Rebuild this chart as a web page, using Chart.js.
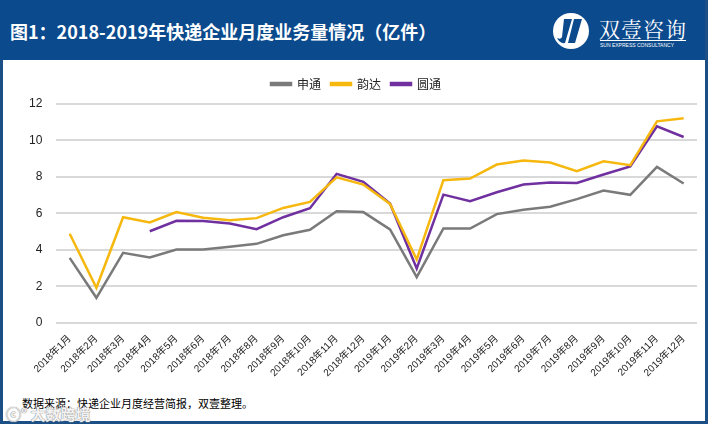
<!DOCTYPE html>
<html>
<head>
<meta charset="utf-8">
<script src="https://cdn.jsdelivr.net/npm/chart.js@4.4.0/dist/chart.umd.min.js"></script>
<style>
  html, body { margin: 0; padding: 0; background: #fff; }
  #frame {
    position: absolute; left: 0; top: 0; width: 702px; height: 421px;
    border: 3px solid #1b4f86; border-top: none; background: #fff;
  }
  #header {
    position: absolute; left: 0; top: 0; width: 705px; height: 60px; background: #0b4a8d;
  }
  #title {
    position: absolute; left: 10px; top: 18px; color: #fff;
    font: bold 18px "Noto Sans CJK SC", sans-serif;
  }
  #logo { position: absolute; left: 550px; top: 10px; }
  #brand {
    position: absolute; left: 599px; top: 13px; color: #fff;
    font: 21px "Noto Serif CJK SC", "Noto Sans CJK SC", serif; letter-spacing: 1px;
  }
  #brandsub {
    position: absolute; left: 600px; top: 40px; color: #fff;
    font: 5px "Liberation Sans", sans-serif; border-top: 1px solid #fff; padding-top: 1px; width: 86px;
  }
  #wrap { position: absolute; left: 5px; top: 66px; width: 698px; height: 315px; }
  #source {
    position: absolute; left: 22px; top: 395px; color: #000;
    font: 11px "Noto Sans CJK SC", sans-serif;
  }
  #mark {
    position: absolute; left: 6px; top: 403px; color: rgba(255,255,255,0.9);
    font: bold 15px "Noto Sans CJK SC", sans-serif;
    text-shadow: 0 0 1px #999, 0 0 1px #999, 0 0 1px #999;
  }
</style>
</head>
<body>
<div id="frame"></div>
<div id="header"></div>
<div id="title">图1：2018-2019年快递企业月度业务量情况（亿件）</div>
<svg id="logo" width="42" height="42" viewBox="0 0 42 42">
  <circle cx="21" cy="21" r="18" fill="#fff"/>
  <path d="M14 9 L22 9 L15 33 Q10 34 7 28 Q11 30 12 27 Z" fill="#0b4a8d"/>
  <path d="M24 9 L32 9 L25 33 L18 33 Z" fill="#0b4a8d"/>
</svg>
<div id="brand">双壹咨询</div>
<div id="brandsub">SUN EXPRESS CONSULTANCY</div>
<div id="wrap"><canvas id="chart"></canvas></div>
<div id="source">数据来源：快递企业月度经营简报，双壹整理。</div>
<div id="mark">ⓒ° 大数跨境</div>
<script>
const months = ['2018年1月','2018年2月','2018年3月','2018年4月','2018年5月','2018年6月',
  '2018年7月','2018年8月','2018年9月','2018年10月','2018年11月','2018年12月',
  '2019年1月','2019年2月','2019年3月','2019年4月','2019年5月','2019年6月',
  '2019年7月','2019年8月','2019年9月','2019年10月','2019年11月','2019年12月'];
const shentong = [3.56,1.37,3.84,3.58,4.02,4.02,4.17,4.33,4.80,5.10,6.12,6.07,
  5.12,2.50,5.17,5.17,5.96,6.20,6.36,6.78,7.25,7.02,8.55,7.64];
const yunda = [4.88,1.92,5.79,5.50,6.07,5.76,5.63,5.74,6.30,6.63,7.98,7.58,
  6.52,3.47,7.82,7.91,8.68,8.90,8.79,8.31,8.86,8.64,11.05,11.22];
const yuantong = [null,null,null,5.02,5.59,5.58,5.45,5.13,5.79,6.28,8.17,7.73,
  6.54,2.98,7.03,6.67,7.16,7.58,7.69,7.67,8.13,8.58,10.78,10.19];

// a little extra room under the legend
const legendGap = {
  id: 'legendGap',
  beforeInit(chart) {
    const fit = chart.legend.fit;
    chart.legend.fit = function () {
      fit.bind(chart.legend)();
      this.height += 4;
    };
  }
};

const ctx = document.getElementById('chart').getContext('2d');
new Chart(ctx, {
  type: 'line',
  data: {
    labels: months,
    datasets: [
      { label: '申通', data: shentong, borderColor: '#7a7a7a', backgroundColor: '#7a7a7a' },
      { label: '韵达', data: yunda, borderColor: '#f6b80f', backgroundColor: '#f6b80f' },
      { label: '圆通', data: yuantong, borderColor: '#7030a0', backgroundColor: '#7030a0' }
    ].map(d => Object.assign(d, { borderWidth: 2.5, pointRadius: 0, tension: 0, spanGaps: false }))
  },
  options: {
    responsive: true,
    maintainAspectRatio: false,
    animation: false,
    layout: { padding: { left: 10, right: 6, top: 2, bottom: 0 } },
    plugins: {
      legend: {
        position: 'top',
        labels: {
          boxWidth: 20, boxHeight: 2, padding: 10,
          color: '#222', font: { size: 12, family: '"Noto Sans CJK SC", sans-serif' }
        }
      },
      tooltip: { enabled: false }
    },
    scales: {
      x: {
        offset: true,
        grid: { display: false },
        border: { display: false },
        ticks: {
          minRotation: 45, maxRotation: 45, autoSkip: false, padding: 2,
          color: '#222', font: { size: 10, family: '"Liberation Sans", "Noto Sans CJK SC", sans-serif' }
        }
      },
      y: {
        min: 0, max: 12,
        ticks: { stepSize: 2, padding: 14, color: '#222', font: { size: 12, family: '"Liberation Sans", sans-serif' } },
        grid: { color: '#d9d9d9', lineWidth: 2, drawTicks: false },
        border: { display: false }
      }
    }
  },
  plugins: [legendGap]
});
</script>
</body>
</html>
